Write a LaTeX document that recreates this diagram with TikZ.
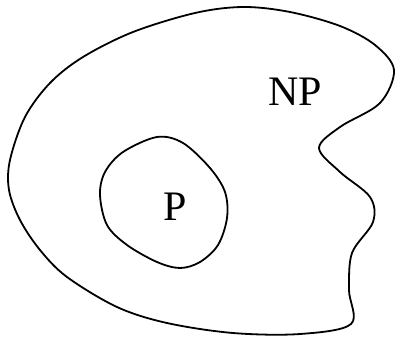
\documentclass[tikz,border=0pt]{standalone}
\usepackage{fontspec}
\setmainfont{Liberation Serif}
\begin{document}
\begin{tikzpicture}[x=1pt,y=-1pt,
  blob/.style={draw=black,line width=1.8pt,line join=round},
  lbl/.style={font=\fontsize{42}{42}\selectfont,inner sep=0pt}]
\useasboundingbox (0,0) rectangle (396,337);
\draw[blob] plot[smooth cycle,tension=0.55] coordinates {
 (243,7) (290,12) (340,26) (375,45) (394,70) (380,103) (340,127)
 (319,148) (340,172) (370,197) (373,222) (352,253)
 (349,290) (351,324) (300,334) (233,333) (167,323) (117,307)
 (67,277) (40,250) (20,220) (9,190) (10,160) (25,117) (50,83)
 (83,57) (133,32) (195,13)};
\draw[blob] plot[smooth cycle,tension=0.55] coordinates {
 (157,137) (183,143) (210,168) (225,192) (227,218) (218,245) (200,262)
 (180,268) (157,262) (127,245) (107,225) (100,195) (105,172) (123,152)};
\node[lbl] (np) at (295,92) {NP};
\node[lbl] (p) at (175,207) {P};
\end{tikzpicture}
\end{document}
